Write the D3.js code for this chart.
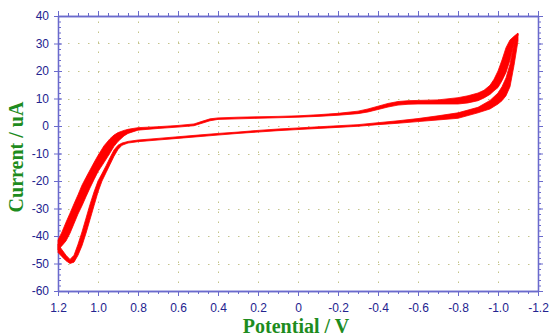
<!DOCTYPE html>
<html>
<head>
<meta charset="utf-8">
<script src="https://cdn.jsdelivr.net/npm/d3@7"></script>
<style>
  body { margin: 0; background: #fff; }
  svg { display: block; }
</style>
</head>
<body>
<div id="chart"></div>
<script>
// forward sweep (1.2 V -> -1.1 V): first and last cycle envelopes
const fwdPotential = [1.2, 1.18, 1.16, 1.14, 1.12, 1.1, 1.08, 1.06, 1.04, 1.02, 1.0, 0.97, 0.94, 0.92, 0.9, 0.87, 0.85, 0.8, 0.7, 0.6, 0.52, 0.48, 0.44, 0.4, 0.3, 0.2, 0.1, 0, -0.1, -0.2, -0.3, -0.35, -0.4, -0.45, -0.5, -0.55, -0.6, -0.7, -0.8, -0.85, -0.9, -0.93, -0.96, -0.98, -1.0, -1.02, -1.04, -1.06, -1.08, -1.1];
const fwdCurrentTop = [-41.5, -38.5, -35, -31.7, -28.3, -25, -21.5, -18.7, -16, -13.3, -10.7, -7.2, -4.6, -3.3, -2.4, -1.6, -1.2, -0.6, -0.25, 0.2, 0.75, 1.7, 2.6, 2.95, 3.2, 3.35, 3.5, 3.7, 4.1, 4.6, 5.4, 6.2, 7.2, 8.2, 8.9, 9.2, 9.3, 9.5, 10.3, 11.0, 12.0, 13.0, 14.8, 17, 20, 24, 28.5, 31.3, 32.6, 33.8];
const fwdCurrentBottom = [-45, -43.5, -41.8, -39, -35.5, -32, -29, -25.7, -22.5, -19.5, -16.6, -13.3, -9.8, -7.4, -5.6, -3.6, -2.7, -1.5, -0.9, -0.4, 0.1, 1.0, 1.9, 2.4, 2.6, 2.8, 3.0, 3.2, 3.5, 3.9, 4.5, 5.1, 6.0, 6.9, 7.6, 7.9, 8.0, 8.0, 8.0, 8.4, 9.2, 10.2, 11.5, 12.8, 14, 16.5, 19.5, 24, 30, 33];

// reverse sweep (-1.1 V -> 1.2 V)
const revPotential = [-1.1, -1.08, -1.06, -1.04, -1.02, -1.0, -0.96, -0.9, -0.8, -0.7, -0.6, -0.5, -0.4, -0.3, -0.2, -0.1, 0, 0.1, 0.2, 0.3, 0.4, 0.5, 0.6, 0.7, 0.8, 0.85, 0.88, 0.9, 0.92, 0.94, 0.96, 0.98, 1.0, 1.02, 1.04, 1.06, 1.08, 1.1, 1.12, 1.14, 1.16, 1.18, 1.2];
const revCurrentTop = [33.5, 30, 22.5, 17.5, 14.3, 12, 9.3, 6.8, 4.8, 3.7, 2.7, 1.9, 1.2, 0.5, 0.1, -0.3, -0.7, -1.1, -1.6, -2.2, -2.7, -3.3, -3.9, -4.5, -5.1, -5.6, -6.2, -7.0, -8.7, -11.5, -14.5, -17.3, -20, -24, -28.5, -33.5, -38.5, -43, -47, -48.5, -47, -45, -43];
const revCurrentBottom = [31, 22, 14.3, 11, 9.2, 8, 6.2, 4.8, 2.8, 2.2, 1.6, 1.0, 0.5, -0.1, -0.5, -0.9, -1.3, -1.7, -2.2, -2.7, -3.3, -3.9, -4.5, -5.1, -5.7, -6.2, -7.0, -8.5, -11, -14, -17, -20, -24, -29, -34, -39, -43.5, -47, -49.5, -50, -49, -47.5, -46];

const xMajorTicks = [1.2, 1.0, 0.8, 0.6, 0.4, 0.2, 0, -0.2, -0.4, -0.6, -0.8, -1.0, -1.2];
const xTickLabels = ['1.2', '1.0', '0.8', '0.6', '0.4', '0.2', '0', '-0.2', '-0.4', '-0.6', '-0.8', '-1.0', '-1.2'];
const yMajorTicks = [40, 30, 20, 10, 0, -10, -20, -30, -40, -50, -60];
const yTickLabels = ['40', '30', '20', '10', '0', '-10', '-20', '-30', '-40', '-50', '-60'];

const width = 550, height = 336;
const margin = { top: 16, right: 12, bottom: 45, left: 58 };
const axisColor = '#6a6acc';
const labelColor = '#23238f';
const gridColor = '#c4c48a';
const titleColor = '#1e8c1e';

const svg = d3.select('#chart')
  .append('svg')
  .attr('width', width)
  .attr('height', height);

const x = d3.scaleLinear()
  .domain([1.2, -1.2])
  .range([margin.left, width - margin.right]);

const y = d3.scaleLinear()
  .domain([-60, 40])
  .range([height - margin.bottom, margin.top]);

const x0 = x.range()[0], x1 = x.range()[1];
const y0 = y.range()[0], y1 = y.range()[1];

const xMinor = d3.range(0, 49).map(i => +(1.2 - i * 0.05).toFixed(2));
const yMinor = d3.range(0, 51).map(i => 40 - i * 2);

// dotted grid
svg.append('g')
  .selectAll('line')
  .data(xMajorTicks.slice(1, -1))
  .enter()
  .append('line')
  .attr('x1', d => Math.round(x(d)) + 0.5)
  .attr('x2', d => Math.round(x(d)) + 0.5)
  .attr('y1', y0)
  .attr('y2', y1)
  .attr('stroke', gridColor)
  .attr('stroke-width', 1)
  .attr('stroke-dasharray', '1.5,8.5')
  .attr('stroke-dashoffset', -8);

svg.append('g')
  .selectAll('line')
  .data(yMajorTicks.slice(1, -1))
  .enter()
  .append('line')
  .attr('x1', x0)
  .attr('x2', x1)
  .attr('y1', d => Math.round(y(d)) + 0.5)
  .attr('y2', d => Math.round(y(d)) + 0.5)
  .attr('stroke', gridColor)
  .attr('stroke-width', 1)
  .attr('stroke-dasharray', '1.5,8.5')
  .attr('stroke-dashoffset', -10);

// axes
function styleAxis(g) {
  g.select('.domain').attr('stroke', axisColor).attr('stroke-width', 1.3);
  g.selectAll('.tick line').attr('stroke', axisColor);
  g.selectAll('.tick text')
    .attr('fill', labelColor)
    .style('font-family', '"Liberation Sans", Arial, sans-serif')
    .style('font-size', '12px');
}

svg.append('g')
  .attr('transform', `translate(0,${y0})`)
  .call(d3.axisBottom(x).tickValues(xMinor).tickSize(3).tickSizeOuter(0).tickFormat(''))
  .call(styleAxis);

svg.append('g')
  .attr('transform', `translate(0,${y0})`)
  .call(d3.axisBottom(x).tickValues(xMajorTicks).tickSize(5).tickSizeOuter(0).tickPadding(7)
    .tickFormat((d, i) => xTickLabels[i]))
  .call(styleAxis);

svg.append('g')
  .attr('transform', `translate(0,${y1})`)
  .call(d3.axisTop(x).tickValues(xMinor).tickSize(3).tickSizeOuter(0).tickFormat(''))
  .call(styleAxis);

svg.append('g')
  .attr('transform', `translate(0,${y1})`)
  .call(d3.axisTop(x).tickValues(xMajorTicks).tickSize(5).tickSizeOuter(0).tickFormat(''))
  .call(styleAxis);

svg.append('g')
  .attr('transform', `translate(${x0},0)`)
  .call(d3.axisLeft(y).tickValues(yMinor).tickSize(-3).tickSizeOuter(0).tickFormat(''))
  .call(styleAxis);

svg.append('g')
  .attr('transform', `translate(${x0},0)`)
  .call(d3.axisLeft(y).tickValues(yMajorTicks).tickSize(4).tickSizeOuter(0).tickPadding(5)
    .tickFormat((d, i) => yTickLabels[i]))
  .call(styleAxis);

svg.append('g')
  .attr('transform', `translate(${x0},0)`)
  .call(d3.axisRight(y).tickValues(yMajorTicks).tickSize(4).tickSizeOuter(0).tickFormat(''))
  .call(styleAxis)
  .select('.domain').remove();

svg.append('g')
  .attr('transform', `translate(${x1},0)`)
  .call(d3.axisRight(y).tickValues(yMinor).tickSize(3).tickSizeOuter(0).tickFormat(''))
  .call(styleAxis);

svg.append('g')
  .attr('transform', `translate(${x1},0)`)
  .call(d3.axisRight(y).tickValues(yMajorTicks).tickSize(5).tickSizeOuter(0).tickFormat(''))
  .call(styleAxis);

// voltammogram bands: each branch filled between first and last cycle
const line = d3.line()
  .x(d => x(d[0]))
  .y(d => y(d[1]));

function band(potential, top, bottom) {
  const a = potential.map((e, i) => [e, top[i]]);
  const b = potential.map((e, i) => [e, bottom[i]]).reverse();
  return a.concat(b);
}

const branches = [
  band(fwdPotential, fwdCurrentTop, fwdCurrentBottom),
  band(revPotential, revCurrentTop, revCurrentBottom)
];

svg.append('g')
  .selectAll('path')
  .data(branches)
  .enter()
  .append('path')
  .attr('d', d => line(d) + 'Z')
  .attr('fill', '#ff0000')
  .attr('stroke', '#ff0000')
  .attr('stroke-width', 0.8)
  .attr('stroke-linejoin', 'round');

// axis titles
svg.append('text')
  .attr('x', 296)
  .attr('y', 333)
  .attr('text-anchor', 'middle')
  .attr('fill', titleColor)
  .style('font-family', '"Liberation Serif", "Times New Roman", serif')
  .style('font-weight', 'bold')
  .style('font-size', '20px')
  .text('Potential / V');

svg.append('text')
  .attr('transform', 'translate(23,157) rotate(-90)')
  .attr('text-anchor', 'middle')
  .attr('fill', titleColor)
  .style('font-family', '"Liberation Serif", "Times New Roman", serif')
  .style('font-weight', 'bold')
  .style('font-size', '20px')
  .text('Current / uA');
</script>
</body>
</html>
